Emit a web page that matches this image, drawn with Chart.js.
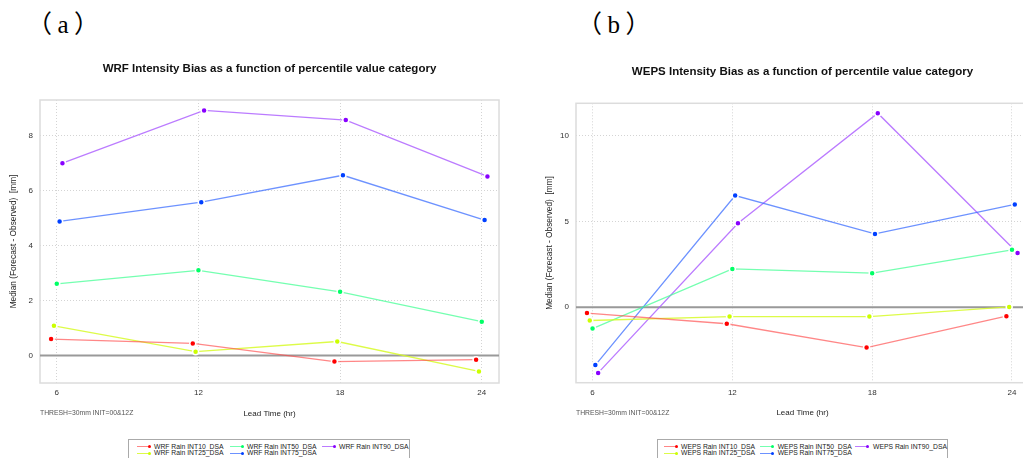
<!DOCTYPE html>
<html>
<head>
<meta charset="utf-8">
<script src="https://cdn.jsdelivr.net/npm/chart.js@4.4.1/dist/chart.umd.min.js"></script>
<style>
	body { margin: 0; width: 1023px; height: 458px; overflow: hidden; background: #fff; position: relative; font-family: 'Liberation Sans', Arial, sans-serif; }
	canvas { position: absolute; top: 0; }
	.tag { position: absolute; font-family: 'Liberation Serif', 'Noto Sans CJK SC', serif; font-size: 25px; line-height: 1; letter-spacing: 5.5px; color: #000; }
	.legend { position: absolute; top: 439px; height: 24px; border: 1px solid #aaa; box-sizing: border-box; display: grid; grid-auto-flow: column; grid-template-rows: 6.7px 6.7px; padding-top: 3.5px; font-size: 6.8px; color: #222; }
	.legend .item { display: flex; align-items: center; white-space: nowrap; line-height: 6.7px; }
	.legend .swatch { position: relative; width: 13px; height: 1px; margin-right: 4.5px; }
	.legend .swatch i { position: absolute; right: -1px; top: -1.5px; width: 3px; height: 3px; border-radius: 50%; }
</style>
</head>
<body>
<div class="tag" style="left:27px; top:12px;">（a）</div>
<div class="tag" style="left:577px; top:12px;">（b）</div>
<canvas id="wrfChart" width="520" height="425" style="left:0px"></canvas>
<canvas id="wepsChart" width="503" height="425" style="left:536px"></canvas>
<div class="legend" id="wrfLegend" style="left:128px; width:282px; padding-left:7.5px; grid-template-columns:93px 92px 90px;"></div>
<div class="legend" id="wepsLegend" style="left:657px; width:291px; padding-left:5.5px; grid-template-columns:96.7px 95.3px 92px;"></div>
<script>
var leadTimes = [6, 12, 18, 24];
var categories = ['INT10_DSA', 'INT25_DSA', 'INT50_DSA', 'INT75_DSA', 'INT90_DSA'];

// (a) WRF median bias [mm]
var wrfInt10 = [0.60, 0.44, -0.22, -0.15];
var wrfInt25 = [1.08, 0.14, 0.51, -0.58];
var wrfInt50 = [2.61, 3.10, 2.32, 1.23];
var wrfInt75 = [4.88, 5.58, 6.56, 4.93];
var wrfInt90 = [7.00, 8.92, 8.57, 6.52];

// (b) WEPS median bias [mm]
var wepsInt10 = [-0.34, -0.96, -2.35, -0.52];
var wepsInt25 = [-0.77, -0.54, -0.54, 0.02];
var wepsInt50 = [-1.24, 2.24, 1.99, 3.35];
var wepsInt75 = [-3.37, 6.52, 4.28, 6.00];
var wepsInt90 = [-3.83, 4.90, 11.32, 3.17];

var wrfYTicks = [0, 2, 4, 6, 8];
var wepsYTicks = [0, 5, 10];

// styles
var pointColors = ['#ff0000', '#ccff00', '#00ff66', '#0040ff', '#8800ff'];
var lineColors = ['rgba(255,70,70,0.65)', 'rgba(215,250,40,0.85)', 'rgba(70,255,150,0.75)', 'rgba(60,110,255,0.75)', 'rgba(170,90,255,0.8)'];
var dodge = [-0.24, -0.12, 0, 0.12, 0.24]; // small horizontal shift per series

Chart.defaults.font.family = "'Liberation Sans', Arial, sans-serif";

// plot frame and zero line
var framePlugin = {
	id: 'frame',
	beforeDatasetsDraw: function (chart) {
		var ctx = chart.ctx, a = chart.chartArea;
		var y0 = chart.scales.y.getPixelForValue(0);
		ctx.save();
		ctx.strokeStyle = '#dcdcdc';
		ctx.lineWidth = 1.5;
		ctx.strokeRect(a.left, a.top, a.width, a.height);
		ctx.strokeStyle = '#999';
		ctx.lineWidth = 2;
		ctx.beginPath();
		ctx.moveTo(a.left, y0);
		ctx.lineTo(a.right, y0);
		ctx.stroke();
		ctx.restore();
	}
};

// small note under the plot
var notePlugin = {
	id: 'note',
	afterDraw: function (chart, args, opts) {
		var ctx = chart.ctx, a = chart.chartArea;
		ctx.save();
		ctx.font = "6.8px 'Liberation Sans'";
		ctx.fillStyle = '#555';
		ctx.textBaseline = 'middle';
		ctx.fillText(opts.text, a.left, a.bottom + opts.offset);
		ctx.restore();
	}
};

function buildChart(id, model, series, yTicks, yMin, yMax, titlePad, padding) {
	var datasets = series.map(function (values, k) {
		return {
			label: model + ' Rain ' + categories[k],
			data: values.map(function (v, i) { return { x: leadTimes[i] + dodge[k], y: v }; }),
			borderColor: lineColors[k],
			backgroundColor: pointColors[k],
			pointBackgroundColor: pointColors[k],
			pointBorderColor: '#fff',
			pointBorderWidth: 1.5,
			pointRadius: 3,
			borderWidth: 1.3,
			tension: 0
		};
	});

	return new Chart(document.getElementById(id), {
		type: 'line',
		data: { datasets: datasets },
		options: {
			responsive: false,
			animation: false,
			layout: { padding: padding },
			plugins: {
				legend: { display: false },
				tooltip: { enabled: false },
				title: {
					display: true,
					text: model + ' Intensity Bias as a function of percentile value category',
					fullSize: false,
					color: '#111',
					font: { size: 11.5, weight: 'bold' },
					padding: titlePad
				},
				note: { text: 'THRESH=30mm INIT=00&12Z', offset: 30 }
			},
			scales: {
				x: {
					type: 'linear',
					min: 5.29,
					max: 24.73,
					afterBuildTicks: function (axis) {
						axis.ticks = leadTimes.map(function (v) { return { value: v }; });
					},
					grid: { color: '#d4d4d4', lineWidth: 1, drawTicks: false },
					border: { display: false, dash: [1, 2] },
					ticks: { padding: 5, color: '#333', font: { size: 8 } },
					title: { display: true, text: 'Lead Time (hr)', color: '#222', font: { size: 8 }, padding: { top: 6, bottom: 0 } }
				},
				y: {
					min: yMin,
					max: yMax,
					afterBuildTicks: function (axis) {
						axis.ticks = yTicks.map(function (v) { return { value: v }; });
					},
					afterFit: function (scale) { scale.width = 34; },
					grid: { color: '#d4d4d4', lineWidth: 1, drawTicks: false },
					border: { display: false, dash: [1, 2] },
					ticks: { padding: 7, color: '#333', font: { size: 8 } },
					title: { display: true, text: 'Median (Forecast - Observed)  [mm]', color: '#222', font: { size: 8.3 }, padding: { top: 3, bottom: 0 } }
				}
			}
		},
		plugins: [framePlugin, notePlugin]
	});
}

// legend in column order (3 columns x 2 rows)
function buildLegend(chart, boxId) {
	var box = document.getElementById(boxId);
	chart.data.datasets.forEach(function (ds) {
		var item = document.createElement('div');
		item.className = 'item';
		var sw = document.createElement('span');
		sw.className = 'swatch';
		sw.style.background = ds.borderColor;
		var dot = document.createElement('i');
		dot.style.background = ds.pointBackgroundColor;
		sw.appendChild(dot);
		item.appendChild(sw);
		item.appendChild(document.createTextNode(ds.label));
		box.appendChild(item);
	});
}

var wrfChart = buildChart('wrfChart', 'WRF',
	[wrfInt10, wrfInt25, wrfInt50, wrfInt75, wrfInt90],
	wrfYTicks, -1, 9.3,
	{ top: 62, bottom: 24.2 },
	{ left: 6, right: 21, top: 0, bottom: 6.8 });

var wepsChart = buildChart('wepsChart', 'WEPS',
	[wepsInt10, wepsInt25, wepsInt50, wepsInt75, wepsInt90],
	wepsYTicks, -4.4, 11.9,
	{ top: 65.1, bottom: 24.4 },
	{ left: 6, right: 10, top: 0, bottom: 7.1 });

buildLegend(wrfChart, 'wrfLegend');
buildLegend(wepsChart, 'wepsLegend');
</script>
</body>
</html>
